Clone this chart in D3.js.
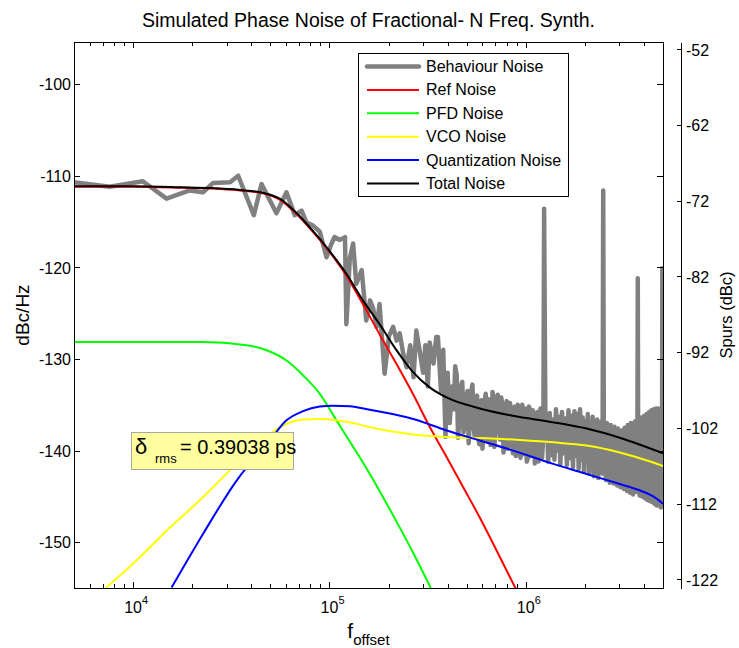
<!DOCTYPE html>
<html lang="en">
<head>
<meta charset="UTF-8">
<title>Simulated Phase Noise of Fractional-N Freq. Synth.</title>
<script src="https://d3js.org/d3.v7.min.js"></script>
<style>
  body { margin: 0; background: #fff; }
  svg { font-family: "Liberation Sans", Arial, Helvetica, sans-serif; }
  .axis line, .axis path { stroke: #000; shape-rendering: crispEdges; }
  .axis text { font-size: 16px; fill: #000; font-family: "Liberation Sans", Arial, sans-serif; }
</style>
</head>
<body>
<svg id="chart" width="739" height="648"></svg>
<script>
  // frequency offset in kHz, level in dBc/Hz
  const totalNoise = [
    [4.9, -111.15], [10, -111.15], [17.3, -111.25], [25, -111.35], [35, -111.55], [45.8, -111.85],
    [55.8, -112.5], [68.2, -114.1], [82.2, -116.0], [100, -118.2], [122, -120.7], [148, -123.6],
    [180, -126.2], [219, -129.0], [266, -131.4], [324, -133.1], [395, -134.2], [583, -135.4],
    [859, -136.2], [1370, -136.9], [2040, -137.6], [3010, -138.6], [5000, -140.3]
  ];
  const refNoise = [
    [4.9, -111.2], [10, -111.2], [17.3, -111.3], [25, -111.4], [35, -111.6], [45.8, -111.9],
    [55.8, -112.6], [68.2, -114.2], [82.2, -116.1], [100, -118.3], [122, -120.9], [148, -124.0],
    [180, -127.3], [219, -130.5], [266, -133.8], [324, -137.4], [395, -140.7], [480, -144.0],
    [583, -147.3], [710, -150.9], [890, -155.1]
  ];
  const pfdNoise = [
    [4.9, -128.15], [22.6, -128.15], [37.8, -128.5], [47.9, -129.05], [61.2, -130.25], [73.5, -131.8],
    [89.3, -133.8], [108.6, -136.7], [132.2, -139.6], [160, -142.5], [180, -144.4], [219, -147.7],
    [266, -151.1], [330, -155.1]
  ];
  const vcoNoise = [
    [7.3, -154.95], [10.4, -152.0], [15.4, -148.4], [22.7, -145.1], [33.6, -141.45], [49.7, -138.2],
    [60.4, -137.1], [73.4, -136.6], [89.3, -136.55], [108.6, -136.7], [132, -137.0], [160.5, -137.45],
    [267, -138.25], [427, -138.55], [631, -138.65], [933, -138.85], [1380, -139.1], [2040, -139.45],
    [3010, -140.2], [4460, -141.3], [5110, -141.75]
  ];
  const quantNoise = [
    [15.7, -154.95], [22.7, -149.1], [33.6, -143.3], [49.7, -138.9], [60.4, -136.7], [73.4, -135.7],
    [89.3, -135.2], [104, -135.1], [127, -135.15], [160.5, -135.55], [267, -136.55], [395, -137.8],
    [583, -138.9], [863, -140.0], [1380, -141.45], [2040, -142.55], [3010, -143.65], [3700, -144.25],
    [4460, -145.0], [5000, -145.8]
  ];
  const behaviourNoise = [
    [4.95, -110.7], [7.6, -111.2], [11.2, -110.6], [14.8, -112.5], [19.4, -111.6], [22.7, -111.8],
    [25.5, -110.8], [31.2, -110.7], [34.3, -110.0], [41.2, -114.3], [45.1, -110.9], [53.7, -114.1],
    [60.4, -111.8], [66.6, -114.3], [72.1, -113.8], [76.4, -115.1], [82, -115.4], [89.3, -116.1],
    [96.6, -118.9], [102, -117.5], [106, -116.7], [113, -117.0], [120, -116.7], [122, -126.2],
    [127, -119.0], [132, -117.4], [137, -121.8], [146, -120.3], [154, -125.8], [161, -123.6],
    [167, -124.5], [174, -126.5], [180, -124.0], [191, -131.6], [201, -127.5], [211, -126.5],
    [220, -128.0], [228, -127.2], [238, -129.5], [247, -130.9], [258, -128.5], [268, -132.0],
    [277, -126.9], [288, -129.1], [300, -131.5], [308, -128.5], [317, -133.0], [324, -128.2],
    [339, -130.5], [350, -127.6], [357, -127.6], [370, -133.5], [380, -129.0], [390, -138.5],
    [400, -131.5], [410, -137.0], [420, -133.0], [430, -135.5], [437, -130.8], [445, -131.8],
    [452, -138.6], [460, -136.5], [467, -133.0], [475, -132.5], [482, -138.0], [490, -137.0],
    [497, -134.2], [505, -133.5], [512, -139.2], [520, -136.0], [527, -133.6], [535, -132.8],
    [542, -137.4], [550, -138.5], [557, -135.0], [565, -134.0], [572, -138.6], [580, -139.3],
    [587, -135.2], [595, -134.5], [602, -139.8], [610, -137.5], [617, -134.6], [625, -133.8],
    [632, -137.8], [640, -139.0], [647, -134.4], [655, -135.0], [662, -139.4], [670, -138.2],
    [677, -133.6], [685, -134.3], [692, -139.6], [700, -137.0], [710, -134.8], [720, -133.9],
    [730, -137.6], [740, -138.8], [750, -134.2], [760, -135.0], [770, -140.2], [780, -139.5],
    [790, -135.4], [800, -134.6], [810, -139.8], [820, -138.0], [830, -134.8], [840, -135.5],
    [850, -139.0], [860, -140.3], [870, -136.0], [880, -135.2], [890, -140.6], [900, -139.0],
    [910, -135.0], [920, -135.8], [930, -139.4], [940, -140.8], [950, -136.2], [960, -135.0],
    [970, -140.4], [980, -139.6], [990, -135.4], [1000, -136.2], [1012, -141.2], [1025, -140.8],
    [1037, -135.2], [1050, -135.5], [1062, -140.6], [1075, -139.8], [1087, -135.6], [1100, -136.0],
    [1112, -141.4], [1125, -141.0], [1137, -136.0], [1150, -135.8], [1162, -141.2], [1175, -140.2],
    [1187, -135.4], [1200, -136.4], [1210, -140.8], [1220, -139.5], [1230, -136.2], [1240, -113.6],
    [1260, -138.8],
    [1280, -136.0], [1300, -141.2], [1325, -135.9], [1350, -140.5], [1375, -136.6], [1400, -141.0],
    [1425, -135.5], [1450, -140.0], [1475, -136.3], [1500, -141.5], [1530, -135.8], [1560, -140.3],
    [1590, -136.5], [1620, -141.6], [1650, -135.6], [1680, -140.8], [1710, -136.2], [1740, -141.8],
    [1770, -135.7], [1800, -140.6], [1830, -136.0], [1860, -142.0], [1890, -135.5], [1920, -141.0],
    [1950, -136.4], [1980, -142.3], [2010, -136.8], [2040, -141.2], [2070, -136.0], [2100, -142.5],
    [2130, -137.0], [2160, -141.5], [2190, -136.3], [2220, -142.8], [2250, -137.2], [2280, -141.8],
    [2310, -136.6], [2340, -143.0], [2370, -137.5], [2400, -142.0], [2430, -136.8], [2460, -142.5],
    [2480, -111.6], [2500, -141.0], [2530, -137.5], [2560, -143.2], [2590, -137.0], [2620, -142.0],
    [2650, -137.8], [2680, -143.5], [2710, -137.2], [2740, -142.3], [2770, -138.0], [2800, -143.6],
    [2830, -137.4], [2860, -142.8], [2890, -138.2], [2920, -143.8], [2950, -137.6], [2980, -142.6],
    [3010, -138.4], [3040, -144.0], [3070, -137.8], [3100, -143.0], [3130, -138.6], [3160, -144.2],
    [3190, -137.5], [3220, -143.2], [3250, -138.2], [3280, -144.4], [3310, -137.2], [3340, -143.5],
    [3370, -138.0], [3400, -144.6], [3430, -137.0], [3460, -143.0], [3490, -137.8], [3520, -144.8],
    [3550, -137.0], [3580, -143.5], [3610, -136.8], [3640, -144.5], [3670, -137.3], [3700, -143.0],
    [3720, -121.2], [3740, -143.8], [3770, -136.6], [3800, -144.9], [3830, -137.0], [3860, -143.5],
    [3890, -136.4], [3920, -145.0], [3950, -136.8], [3980, -143.8], [4010, -136.2], [4040, -145.2],
    [4070, -136.6], [4100, -144.0], [4130, -136.0], [4160, -145.4], [4190, -136.4], [4220, -144.2],
    [4250, -135.8], [4280, -145.5], [4310, -136.2], [4340, -144.5], [4370, -135.6], [4400, -145.6],
    [4430, -136.0], [4460, -144.8], [4490, -135.5], [4520, -145.8], [4550, -135.9], [4580, -145.0],
    [4610, -135.4], [4640, -146.0], [4670, -135.8], [4700, -145.2], [4730, -135.4], [4760, -146.0],
    [4790, -135.8], [4820, -145.4], [4850, -135.5], [4880, -146.2], [4910, -136.0], [4940, -145.5],
    [4960, -120.1], [4980, -145.8], [5010, -136.0]
  ];

  const xMajor = [1e4, 1e5, 1e6];
  const yTicks = [-150, -140, -130, -120, -110, -100];
  const spurTicks = [-122, -112, -102, -92, -82, -72, -62, -52];
  const legendNames = ['Behaviour Noise', 'Ref Noise', 'PFD Noise', 'VCO Noise', 'Quantization Noise', 'Total Noise'];
  const legendColors = ['#808080', '#ff0000', '#00ff00', '#ffff00', '#0000ff', '#000000'];

  const svg = d3.select('#chart');
  const plot = { left: 74, right: 663, top: 42, bottom: 588 };

  const x = d3.scaleLog().domain([5e3, 5e6]).range([plot.left, plot.right]);
  const y = d3.scaleLinear().domain([-155, -95.4]).range([plot.bottom, plot.top]);
  const ySpur = d3.scaleLinear().domain([-123.15, -51.04]).range([plot.bottom, plot.top]);

  // minor ticks 2..9 within each decade
  const xMinor = [];
  [1e3, 1e4, 1e5, 1e6].forEach(d => {
    for (let m = 2; m <= 9; m++) {
      const v = d * m;
      if (v > 5e3 && v < 5e6) xMinor.push(v);
    }
  });

  svg.append('clipPath').attr('id', 'clip')
    .append('rect')
    .attr('x', plot.left).attr('y', plot.top)
    .attr('width', plot.right - plot.left).attr('height', plot.bottom - plot.top);

  // Curves
  const lineSmooth = d3.line()
    .x(d => x(d[0] * 1000))
    .y(d => y(d[1]))
    .curve(d3.curveMonotoneX);
  const lineRaw = d3.line()
    .x(d => x(d[0] * 1000))
    .y(d => y(d[1]));

  const curves = svg.append('g').attr('clip-path', 'url(#clip)');

  curves.append('path')
    .attr('d', lineRaw(behaviourNoise))
    .attr('fill', 'none')
    .attr('stroke', legendColors[0])
    .attr('stroke-width', 4.5)
    .attr('stroke-linejoin', 'round')
    .attr('stroke-linecap', 'round');

  [refNoise, pfdNoise, vcoNoise, quantNoise, totalNoise].forEach((s, i) => {
    curves.append('path')
      .attr('d', lineSmooth(s))
      .attr('fill', 'none')
      .attr('stroke', legendColors[i + 1])
      .attr('stroke-width', 2);
  });

  // Axes (ticks pointing inward)
  function noDomain(g) { g.select('.domain').remove(); }
  const plain = d => String(d); // hyphen minus, like the original

  svg.append('g').attr('class', 'axis')
    .attr('transform', `translate(0,${plot.bottom})`)
    .call(d3.axisBottom(x).tickValues(xMajor).tickSizeInner(-6).tickSizeOuter(0).tickFormat(''))
    .call(noDomain);
  svg.append('g').attr('class', 'axis')
    .attr('transform', `translate(0,${plot.bottom})`)
    .call(d3.axisBottom(x).tickValues(xMinor).tickSizeInner(-4).tickSizeOuter(0).tickFormat(''))
    .call(noDomain);
  svg.append('g').attr('class', 'axis')
    .attr('transform', `translate(0,${plot.top})`)
    .call(d3.axisTop(x).tickValues(xMajor).tickSizeInner(-6).tickSizeOuter(0).tickFormat(''))
    .call(noDomain);
  svg.append('g').attr('class', 'axis')
    .attr('transform', `translate(0,${plot.top})`)
    .call(d3.axisTop(x).tickValues(xMinor).tickSizeInner(-4).tickSizeOuter(0).tickFormat(''))
    .call(noDomain);

  svg.append('g').attr('class', 'axis')
    .attr('transform', `translate(${plot.left},0)`)
    .call(d3.axisLeft(y).tickValues(yTicks).tickSizeInner(-6).tickSizeOuter(0).tickPadding(3).tickFormat(plain))
    .call(noDomain)
    .selectAll('text').attr('dy', '0.36em');
  svg.append('g').attr('class', 'axis')
    .attr('transform', `translate(${plot.right},0)`)
    .call(d3.axisRight(y).tickValues(yTicks).tickSizeInner(-6).tickSizeOuter(0).tickFormat(''))
    .call(noDomain);

  // x tick labels as 10^n
  const xl = svg.append('g').attr('class', 'axis');
  xMajor.forEach(v => {
    const px = x(v);
    xl.append('text')
      .attr('x', px).attr('y', plot.bottom + 25)
      .attr('text-anchor', 'middle')
      .text('10');
    xl.append('text')
      .attr('x', px + 9).attr('y', plot.bottom + 16)
      .style('font-size', '11px')
      .text(Math.round(Math.log10(v)));
  });

  // frame
  svg.append('rect')
    .attr('x', plot.left + 0.5).attr('y', plot.top + 0.5)
    .attr('width', plot.right - plot.left).attr('height', plot.bottom - plot.top)
    .attr('fill', 'none').attr('stroke', '#000').attr('stroke-width', 1);

  // spur axis on the right
  svg.append('g').attr('class', 'axis')
    .attr('transform', 'translate(681,0)')
    .call(d3.axisRight(ySpur).tickValues(spurTicks).tickSizeInner(-4).tickSizeOuter(0).tickPadding(5)
      .tickFormat(plain))
    .selectAll('text').attr('dy', '0.36em');

  // titles
  svg.append('text')
    .attr('x', (plot.left + plot.right) / 2).attr('y', 27)
    .attr('text-anchor', 'middle')
    .style('font-size', '19.5px')
    .text('Simulated Phase Noise of Fractional- N Freq. Synth.');

  svg.append('text')
    .attr('transform', `translate(29,${(plot.top + plot.bottom) / 2}) rotate(-90)`)
    .attr('text-anchor', 'middle')
    .style('font-size', '19px')
    .text('dBc/Hz');

  svg.append('text')
    .attr('transform', `translate(732,${(plot.top + plot.bottom) / 2}) rotate(-90)`)
    .attr('text-anchor', 'middle')
    .style('font-size', '16.5px')
    .text('Spurs (dBc)');

  const xt = svg.append('text')
    .attr('x', (plot.left + plot.right) / 2).attr('y', 638)
    .attr('text-anchor', 'middle');
  xt.append('tspan').style('font-size', '21px').text('f');
  xt.append('tspan').attr('dy', 7).style('font-size', '15px').text('offset');

  // legend
  const lg = svg.append('g');
  lg.append('rect')
    .attr('x', 358.5).attr('y', 53.5).attr('width', 210).attr('height', 143)
    .attr('fill', '#fff').attr('stroke', '#000');
  legendNames.forEach((name, i) => {
    const ly = 66.5 + i * 23.4;
    lg.append('line')
      .attr('x1', 367).attr('x2', 419).attr('y1', ly).attr('y2', ly)
      .attr('stroke', legendColors[i])
      .attr('stroke-width', i === 0 ? 4.5 : 2)
      .attr('stroke-linecap', i === 0 ? 'round' : 'butt');
    lg.append('text')
      .attr('x', 426).attr('y', ly + 5.5)
      .style('font-size', '16px')
      .text(name);
  });

  // rms jitter annotation
  const an = svg.append('g');
  an.append('rect')
    .attr('x', 131.5).attr('y', 432.5).attr('width', 162).attr('height', 37)
    .attr('fill', '#ffffa0').attr('stroke', '#a8a8a8');
  an.append('text').attr('x', 135).attr('y', 454).style('font-size', '22px').text('δ');
  an.append('text').attr('x', 155).attr('y', 463).style('font-size', '13px').text('rms');
  an.append('text').attr('x', 180).attr('y', 454).style('font-size', '20px').text('= 0.39038 ps');
</script>
</body>
</html>
